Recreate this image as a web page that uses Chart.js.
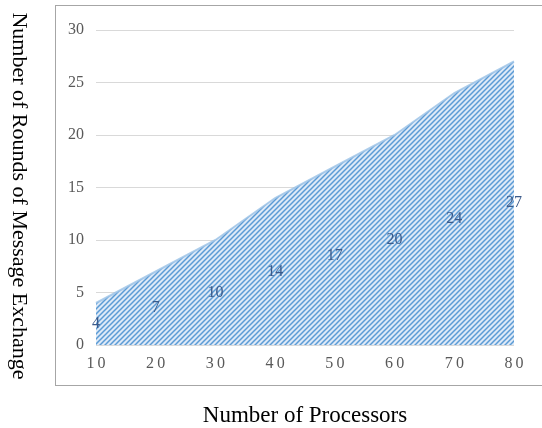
<!DOCTYPE html>
<html>
<head>
<meta charset="utf-8">
<script src="https://cdn.jsdelivr.net/npm/chart.js@4"></script>
<style>
  html, body { margin: 0; padding: 0; background: #fff; }
  #wrap { width: 542px; height: 428px; }
</style>
</head>
<body>
<div id="wrap"><canvas id="roundsChart" width="542" height="428"></canvas></div>
<script>
const processors = ['10', '20', '30', '40', '50', '60', '70', '80'];
const rounds = [4, 7, 10, 14, 17, 20, 24, 27];
const yTicks = [0, 5, 10, 15, 20, 25, 30];

const serif = '"Liberation Serif", "Times New Roman", serif';

// diagonal hatch used for the area
function makeHatch() {
    const s = 5;
    const c = document.createElement('canvas');
    c.width = s; c.height = s;
    const g = c.getContext('2d');
    g.fillStyle = '#dde9f7';
    g.fillRect(0, 0, s, s);
    g.strokeStyle = '#5b9bd5';
    g.lineWidth = 1.5;
    g.beginPath();
    g.moveTo(0, s); g.lineTo(s, 0);
    g.moveTo(-1, 1); g.lineTo(1, -1);
    g.moveTo(s - 1, s + 1); g.lineTo(s + 1, s - 1);
    g.stroke();
    return document.createElement('canvas').getContext('2d').createPattern(c, 'repeat');
}

const frame = {
    id: 'frame',
    beforeDraw(chart) {
        const ctx = chart.ctx;
        ctx.save();
        ctx.strokeStyle = '#a6a6a6';
        ctx.lineWidth = 1;
        ctx.strokeRect(55.5, 5.5, 600, 380);
        ctx.restore();
    }
};

const valueLabels = {
    id: 'valueLabels',
    afterDatasetsDraw(chart) {
        const ctx = chart.ctx;
        const x = chart.scales.x, y = chart.scales.y;
        ctx.save();
        ctx.font = '16px ' + serif;
        ctx.fillStyle = '#3b5a8a';
        ctx.textAlign = 'center';
        ctx.textBaseline = 'middle';
        rounds.forEach((v, i) => {
            ctx.fillText(String(v), x.getPixelForValue(i), y.getPixelForValue(v / 2));
        });
        ctx.restore();
    }
};

// y title reads top to bottom
const yTitle = {
    id: 'yTitle',
    afterDraw(chart) {
        const ctx = chart.ctx;
        ctx.save();
        ctx.translate(19, 196);
        ctx.rotate(Math.PI / 2);
        ctx.font = '22px ' + serif;
        ctx.fillStyle = '#000';
        ctx.textAlign = 'center';
        ctx.textBaseline = 'middle';
        ctx.fillText('Number of Rounds of Message Exchange', 0, 0);
        ctx.restore();
    }
};

const ctx = document.getElementById('roundsChart').getContext('2d');
new Chart(ctx, {
    type: 'line',
    data: {
        labels: processors,
        datasets: [{
            data: rounds,
            fill: 'origin',
            backgroundColor: makeHatch(),
            borderColor: 'rgba(155, 194, 230, 0.8)',
            borderWidth: 2,
            pointRadius: 0,
            tension: 0
        }]
    },
    options: {
        responsive: false,
        animation: false,
        layout: { padding: { left: 40, right: 28, top: 30, bottom: 0 } },
        plugins: { legend: { display: false }, tooltip: { enabled: false } },
        scales: {
            x: {
                offset: false,
                grid: { display: false },
                border: { display: false },
                ticks: {
                    color: '#595959',
                    font: { family: serif, size: 16 },
                    padding: 1,
                    maxRotation: 0,
                    callback: function(v, i) { return processors[i].split('').join('\u2009'); }
                },
                title: {
                    display: true,
                    text: 'Number of Processors',
                    color: '#000',
                    font: { family: serif, size: 23 },
                    padding: { top: 22, bottom: -2 }
                },
                afterFit: function(scale) { scale.height = 83; }
            },
            y: {
                min: 0,
                max: 30,
                afterBuildTicks: function(scale) { scale.ticks = yTicks.map(v => ({ value: v })); },
                grid: { color: '#d9d9d9', lineWidth: 1, drawTicks: false },
                border: { display: false },
                ticks: {
                    color: '#595959',
                    font: { family: serif, size: 16 },
                    padding: 12
                },
                afterFit: function(scale) { scale.width = 56; }
            }
        }
    },
    plugins: [frame, valueLabels, yTitle]
});
</script>
</body>
</html>
